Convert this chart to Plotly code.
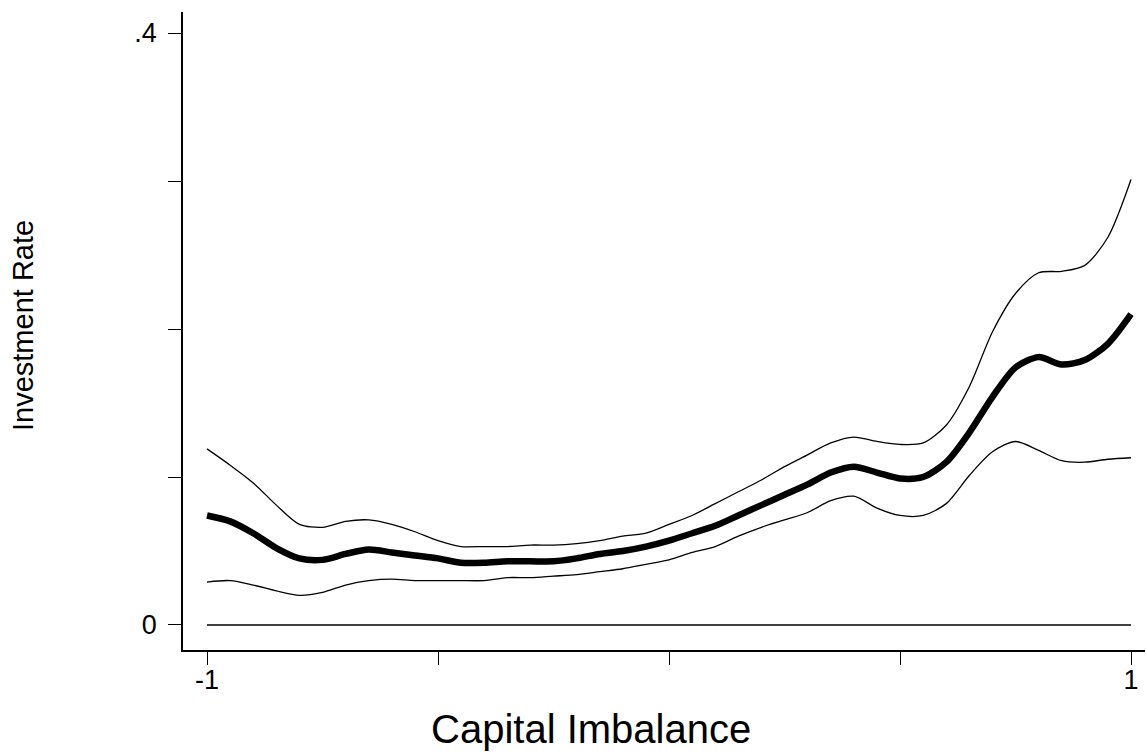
import plotly.graph_objects as go

x_grid = [round(-1 + 0.05 * i, 2) for i in range(41)]

fit = [0.074, 0.070, 0.062, 0.052, 0.045, 0.044, 0.048, 0.051, 0.049, 0.047,
       0.045, 0.042, 0.042, 0.043, 0.043, 0.043, 0.045, 0.048, 0.050, 0.053,
       0.057, 0.062, 0.067, 0.074, 0.081, 0.088, 0.095, 0.103, 0.107, 0.103,
       0.099, 0.100, 0.110, 0.130, 0.154, 0.174, 0.181, 0.176, 0.179, 0.190, 0.210]

upper = [0.119, 0.108, 0.096, 0.081, 0.068, 0.066, 0.070, 0.071, 0.068, 0.063,
         0.057, 0.053, 0.053, 0.053, 0.054, 0.054, 0.055, 0.057, 0.060, 0.062,
         0.068, 0.074, 0.082, 0.090, 0.098, 0.107, 0.115, 0.123, 0.127, 0.124,
         0.122, 0.123, 0.135, 0.161, 0.198, 0.224, 0.238, 0.239, 0.243, 0.262, 0.301]

lower = [0.029, 0.030, 0.027, 0.023, 0.020, 0.022, 0.027, 0.030, 0.031, 0.030,
         0.030, 0.030, 0.030, 0.032, 0.032, 0.033, 0.034, 0.036, 0.038, 0.041,
         0.044, 0.049, 0.053, 0.060, 0.066, 0.071, 0.076, 0.084, 0.087, 0.079,
         0.074, 0.074, 0.082, 0.101, 0.117, 0.124, 0.118, 0.111, 0.110, 0.112, 0.113]

zero_x = [-1, 1]
zero_y = [0, 0]

y_ticks = [0, 0.1, 0.2, 0.3, 0.4]
y_labels = ["0", "", "", "", ".4"]
x_ticks = [-1, -0.5, 0, 0.5, 1]
x_labels = ["-1", "", "", "", "1"]

FONT = "Liberation Sans, Arial, Helvetica, sans-serif"

fig = go.Figure()
fig.add_trace(go.Scatter(x=zero_x, y=zero_y, mode="lines",
                         line=dict(color="black", width=1.3), hoverinfo="skip"))
fig.add_trace(go.Scatter(x=x_grid, y=upper, mode="lines",
                         line=dict(color="black", width=1.3, shape="spline", smoothing=0.8)))
fig.add_trace(go.Scatter(x=x_grid, y=lower, mode="lines",
                         line=dict(color="black", width=1.3, shape="spline", smoothing=0.8)))
fig.add_trace(go.Scatter(x=x_grid, y=fit, mode="lines",
                         line=dict(color="black", width=6.5, shape="spline", smoothing=0.8)))

fig.update_layout(
    width=1146, height=755,
    margin=dict(l=183, r=1, t=12, b=105),
    paper_bgcolor="white", plot_bgcolor="white",
    showlegend=False,
    font=dict(family=FONT, color="black"),
    xaxis=dict(range=[-1.052, 1.0303], tickvals=x_ticks, ticktext=x_labels,
               showgrid=False, zeroline=False, showline=True, linecolor="black",
               linewidth=1.5, ticks="outside", ticklen=13, tickwidth=1.2,
               tickcolor="black", ticklabelstandoff=-8,
               tickfont=dict(size=27, family=FONT)),
    yaxis=dict(range=[-0.0169, 0.4142], tickvals=y_ticks, ticktext=y_labels,
               showgrid=False, zeroline=False, showline=True, linecolor="black",
               linewidth=1.5, ticks="outside", ticklen=13, tickwidth=1.2,
               tickcolor="black", ticklabelstandoff=6,
               tickfont=dict(size=27, family=FONT)),
    annotations=[
        dict(text="Capital Imbalance", xref="paper", yref="paper",
             x=(591 - 183) / 962, y=-(729 - 650) / 638, xanchor="center", yanchor="middle",
             showarrow=False, font=dict(size=40, family=FONT)),
        dict(text="Investment Rate", xref="paper", yref="paper",
             x=-(183 - 23) / 962, y=(650 - 326) / 638, xanchor="center", yanchor="middle",
             textangle=-90, showarrow=False, font=dict(size=29, family=FONT)),
    ],
)

fig.write_html("out.html", config={"displayModeBar": False},
               post_script="document.body.style.margin='0';")
